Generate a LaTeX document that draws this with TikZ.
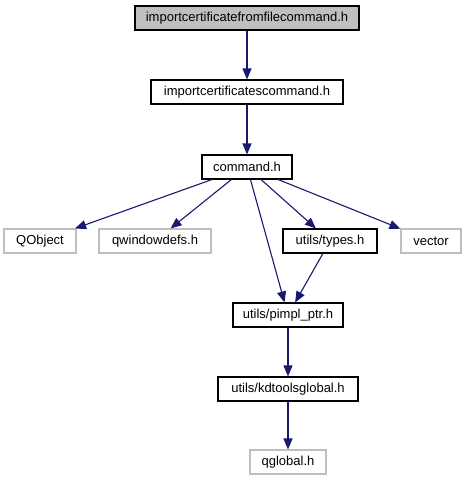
\documentclass[tikz,border=0pt]{standalone}
\usepackage{fontspec}
\setmainfont{Liberation Sans}
\usetikzlibrary{arrows.meta}
\definecolor{edgeblue}{HTML}{191970}
\definecolor{extgray}{HTML}{BFBFBF}
\tikzset{
  hfile/.style={draw=black,line width=1.1pt,inner sep=0pt,
                minimum height=24pt,font=\fontsize{13}{15}\selectfont},
  extfile/.style={hfile,draw=extgray},
  incl/.style={-{Triangle[length=11pt,width=9pt]},draw=edgeblue,line width=1.1pt}
}
\begin{document}
\begin{tikzpicture}[x=1pt,y=-1pt,
  rootfile/.style={hfile,fill=extgray}
]
  \useasboundingbox (0,0) rectangle (466,485);
  \node[rootfile,minimum width=224pt] (root) at (247,18) {importcertificatefromfilecommand.h};
  \node[hfile,minimum width=192pt] (ics) at (247,92) {importcertificatescommand.h};
  \node[hfile,minimum width=90pt] (cmd) at (247,167) {command.h};
  \node[extfile,minimum width=72pt] (qobject) at (40,241) {QObject};
  \node[extfile,minimum width=112pt] (qwindowdefs) at (155,241) {qwindowdefs.h};
  \node[hfile,minimum width=94pt] (types) at (330,241) {utils/types.h};
  \node[extfile,minimum width=60pt] (vector) at (431,241) {vector};
  \node[hfile,minimum width=110pt] (pimpl) at (288,315) {utils/pimpl\_ptr.h};
  \node[hfile,minimum width=140pt] (kdtools) at (288,389) {utils/kdtoolsglobal.h};
  \node[extfile,minimum width=76pt] (qglobal) at (288,462) {qglobal.h};
  \foreach \a/\b in {root/ics,ics/cmd,cmd/qobject,cmd/qwindowdefs,cmd/pimpl,cmd/types,
                     cmd/vector,types/pimpl,pimpl/kdtools,kdtools/qglobal}
    \draw[incl] (\a)--(\b);
\end{tikzpicture}
\end{document}
